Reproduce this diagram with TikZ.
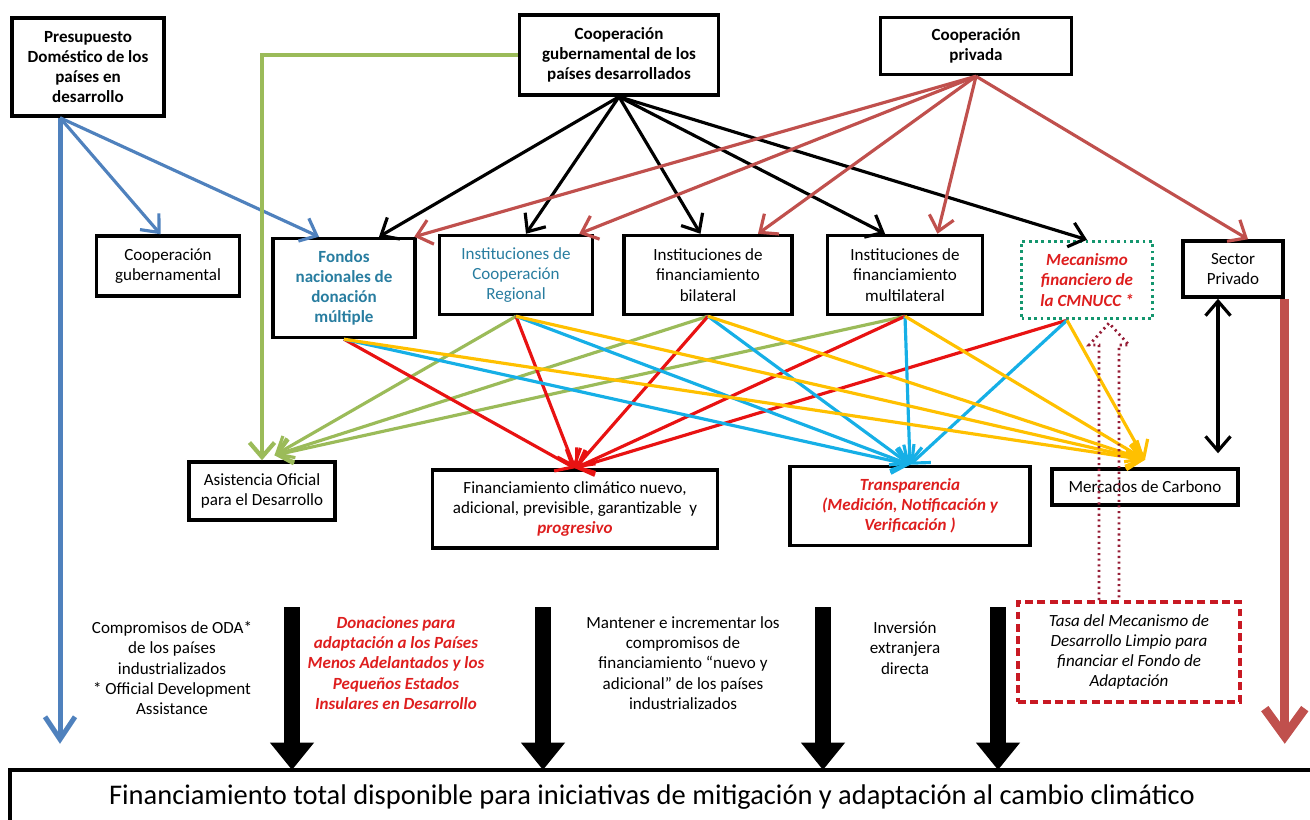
\documentclass[tikz,border=0pt]{standalone}
\usepackage{fontspec}
\setmainfont{Carlito}
\usepackage{tikz}
\usetikzlibrary{arrows.meta}
\definecolor{budgetblue}{RGB}{79,129,189}
\definecolor{odagreen}{RGB}{155,187,89}
\definecolor{privred}{RGB}{192,80,77}
\definecolor{flowred}{RGB}{232,18,18}
\definecolor{flowcyan}{RGB}{22,175,230}
\definecolor{flowyellow}{RGB}{255,192,0}
\definecolor{fundteal}{RGB}{40,125,160}
\definecolor{alertred}{RGB}{222,30,30}
\definecolor{dotgreen}{RGB}{20,150,110}
\definecolor{feered}{RGB}{200,25,35}
\definecolor{feedot}{RGB}{150,30,55}
\newcommand{\boxfont}{\fontsize{9.7}{11.5}\selectfont}
\tikzset{
    box/.style={draw, line width=2pt, align=center, fill=white, inner sep=2pt, font=\boxfont},
    head box/.style={box, font=\boxfont\bfseries},
    alert text/.style={text=alertred, font=\boxfont\bfseries\itshape},
    plain text/.style={align=center, font=\boxfont},
    arr/.style={-{Straight Barb[length=2.9mm,width=5mm]}, line width=1.8pt},
    govarr/.style={arr, black},
    privarr/.style={arr, privred},
    odaarr/.style={arr, odagreen},
    redarr/.style={arr, flowred},
    cyanarr/.style={arr, flowcyan},
    yellowarr/.style={arr, flowyellow},
    budgetarr/.style={arr, budgetblue},
    bigarr/.style={line width=0.32cm, -{Triangle[length=0.55cm,width=0.85cm]}},
}
\begin{document}
\begin{tikzpicture}[x=0.02cm,y=-0.02cm]
\useasboundingbox (0,0) rectangle (1310,819);

% sources
\node[head box, minimum width=3.04cm, minimum height=1.96cm] (pres) at (88,67) {Presupuesto\\Doméstico de los\\países en\\desarrollo};
\node[head box, minimum width=3.98cm, minimum height=1.6cm] (cgd) at (619,55) {Cooperación\\gubernamental de los\\países desarrollados};
\node[head box, minimum width=3.82cm, minimum height=1.14cm] (cpriv) at (976,46) {Cooperación\\privada};

% channels
\node[box, minimum width=2.86cm, minimum height=1.2cm] (cg) at (168,266) {Cooperación\\gubernamental};
\node[box, minimum width=2.84cm, minimum height=1.98cm, text=fundteal, font=\boxfont\bfseries] (fondos) at (344,288) {Fondos\\nacionales de\\donación\\múltiple};
\node[box, minimum width=3.06cm, minimum height=1.58cm, text=fundteal] (icr) at (516,275) {Instituciones de\\Cooperación\\Regional};
\node[box, minimum width=3.36cm, minimum height=1.58cm] (ibil) at (708,275) {Instituciones de\\financiamiento\\bilateral};
\node[box, minimum width=3.1cm, minimum height=1.58cm] (imul) at (905,275) {Instituciones de\\financiamiento\\multilateral};
\node[box, alert text, draw=dotgreen, dash pattern=on 1.6pt off 2pt, minimum width=2.62cm, minimum height=1.54cm] (mec) at (1087,280) {Mecanismo\\financiero de\\la CMNUCC *};
\node[box, minimum width=2cm, minimum height=1.12cm] (spriv) at (1233,269) {Sector\\Privado};

% destinations
\node[box, minimum width=5.7cm, minimum height=1.56cm] (fcn) at (575,509) {Financiamiento climático nuevo,\\adicional, previsible, garantizable\ \ y\\{\color{alertred}\bfseries\itshape progresivo}};
\node[box, minimum width=2.92cm, minimum height=1.16cm] (aod) at (262,491) {Asistencia Oficial\\para el Desarrollo};
\node[box, alert text, minimum width=4.8cm, minimum height=1.58cm] (transp) at (910,506) {Transparencia\\(Medición, Notificación y\\Verificación )};
\node[box, minimum width=3.72cm, minimum height=0.72cm] (merc) at (1145,487) {Mercados de Carbono};

% commitments
\node[plain text] (oda) at (172,668) {Compromisos de ODA*\\de los países\\industrializados\\* Official Development\\Assistance};
\node[plain text, alert text] (don) at (396,663) {Donaciones para\\adaptación a los Países\\Menos Adelantados y los\\Pequeños Estados\\Insulares en Desarrollo};
\node[plain text] (mant) at (683,663) {Mantener e incrementar los\\compromisos de\\financiamiento “nuevo y\\adicional” de los países\\industrializados};
\node[plain text] (inv) at (905,648) {Inversión\\extranjera\\directa};
\node[box, draw=feered, line width=2.2pt, dash pattern=on 4.5pt off 2.5pt, font=\boxfont\itshape, minimum width=4.44cm, minimum height=2cm] (tasa) at (1129,652) {Tasa del Mecanismo de\\Desarrollo Limpio para\\financiar el Fondo de\\Adaptación};

\node[draw, line width=2pt, minimum width=26.16cm, minimum height=1.2cm] (total) at (664,800) {};
\node[font=\fontsize{16.2}{19}\selectfont] (totaltext) at (652,797) {Financiamiento total disponible para iniciativas de mitigación y adaptación al cambio climático};

% domestic budget
\coordinate (pb) at ([xshift=-0.56cm]pres.south);
\draw[budgetarr] (pb) -- ([xshift=-0.15cm]cg.north);
\draw[budgetarr] (pb) -- ([xshift=-0.5cm]fondos.north);
\draw[budgetblue, line width=0.1cm, -{Straight Barb[length=0.45cm,width=0.6cm]}] (pb) -- ++(0,626);

% government cooperation
\draw[odagreen, line width=2.4pt, -{Straight Barb[length=2.9mm,width=5mm]}] (cgd.west) -- (cgd.west -| aod.north) -- (aod.north);
\draw[govarr] (cgd.south) -- ([xshift=0.7cm]fondos.north);
\draw[govarr] (cgd.south) -- ([xshift=0.2cm]icr.north);
\draw[govarr] (cgd.south) -- ([xshift=-0.15cm]ibil.north);
\draw[govarr] (cgd.south) -- ([xshift=-0.4cm]imul.north);
\draw[govarr] (cgd.south) -- (mec.north);

% private cooperation
\draw[privarr] (cpriv.south) -- ([xshift=-0.05cm]fondos.north east);
\draw[privarr] (cpriv.south) -- ([xshift=-0.3cm]icr.north east);
\draw[privarr] (cpriv.south) -- ([xshift=1cm]ibil.north);
\draw[privarr] (cpriv.south) -- ([xshift=0.65cm]imul.north);
\draw[privarr] (cpriv.south) -- ([xshift=0.3cm]spriv.north);
\draw[privred, line width=0.18cm, -{Straight Barb[length=0.55cm,width=0.8cm]}] (spriv.south east) -- ++(0,445);
\draw[govarr, {Straight Barb[length=2.9mm,width=5mm]}-{Straight Barb[length=2.9mm,width=5mm]}] ([xshift=-0.3cm]spriv.south) -- ([xshift=-0.3cm,yshift=0.28cm]spriv.south |- merc.north);

% flows to destinations
\coordinate (mecb) at ([xshift=-0.4cm]mec.south);
\foreach \src in {icr.south,ibil.south,imul.south}
    \draw[odaarr] (\src) -- ([xshift=0.25cm,yshift=0.1cm]aod.north);
\foreach \src in {fondos.south,icr.south,ibil.south,imul.south,mecb}
    \draw[redarr] (\src) -- (fcn.north);
\foreach \src in {fondos.south,icr.south,ibil.south,imul.south,mecb}
    \draw[cyanarr] (\src) -- (transp.north);
\foreach \src in {fondos.south,icr.south,ibil.south,imul.south,mecb}
    \draw[yellowarr] (\src) -- ([yshift=0.15cm]merc.north);

% adaptation fee
\draw[feedot, line width=1.6pt, dash pattern=on 1.2pt off 2pt] ([xshift=-0.6cm]tasa.north) -- ++(0,-255) -- ++(-10,0) -- ++(20,-22) -- ++(20,22) -- ++(-10,0) -- ++(0,255);

% contributions
\foreach \x in {292,543,823,998}
    \draw[bigarr] (\x,607) -- (\x,770);
\end{tikzpicture}
\end{document}
